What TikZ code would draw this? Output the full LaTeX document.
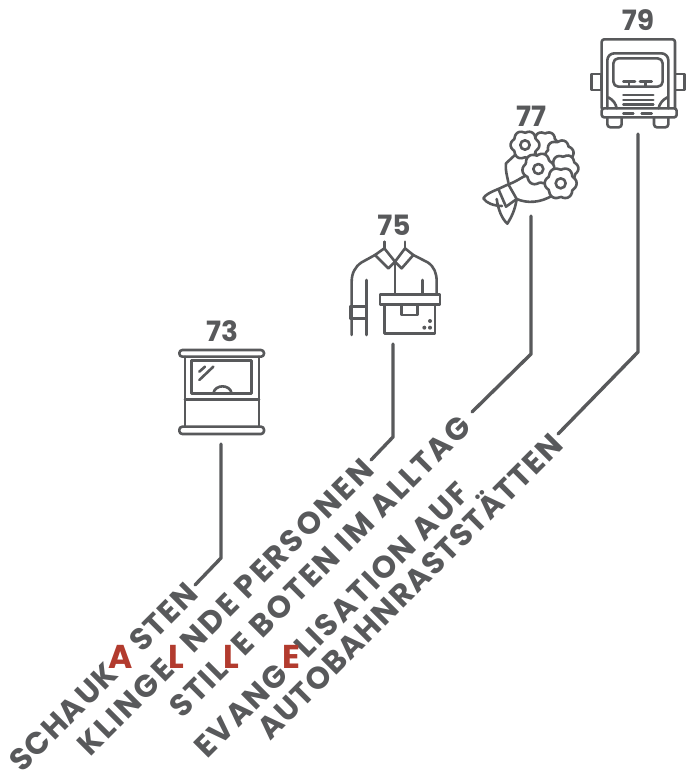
\documentclass[tikz,border=0pt]{standalone}
\usepackage{fontspec}
\setmainfont{Poppins}
\newfontfamily\labg{Poppins}[LetterSpace=7]
\newfontfamily\labh{Poppins}[LetterSpace=8]
\newfontfamily\labi{Poppins}[LetterSpace=4]
\definecolor{ink}{HTML}{58595B}
\definecolor{redl}{HTML}{B23B2E}
\newcommand{\flwr}[5]{\draw[icon,fill=white] plot[smooth cycle,domain=0:352,samples=45] ({#1+(#3+#3*0.2*abs(cos(3*\x+#5)))*cos(\x)},{#2+(#3+#3*0.2*abs(cos(3*\x+#5)))*sin(\x)});
\ifnum#4>0 \draw[icon] (#1,#2) circle (#4);\fi}
\tikzset{
 x=1pt,y=-1pt,
 icon/.style={draw=ink,line width=2.6pt,line join=round,line cap=round},
 conn/.style={draw=ink,line width=3.4pt,line cap=round,line join=round},
 num/.style={font=\bfseries\fontsize{28}{28}\selectfont,text=ink,inner sep=0pt},
 lab/.style={font=#1\bfseries\fontsize{31}{31}\selectfont,text=ink,inner sep=0pt,rotate=45,anchor=base west},
 red/.style={font=\bfseries\fontsize{33}{33}\selectfont,text=redl,inner sep=0pt},
}
\begin{document}
\begin{tikzpicture}
\useasboundingbox (0,0) rectangle (686,773);
% numbers
\node[num] (n73) at (222,331) {73};
\node[num] (n75) at (394,225) {75};
\node[num] (n77) at (531,116) {77};
\node[num] (n79) at (638,20) {79};
% labels
\node[lab=\labi] (l1) at (22,774) {SCHAUK\phantom{A}\hspace{9pt}STEN};
\node[lab=\labh] (l2) at (90,758) {KLINGE\phantom{L}\hspace{10pt}NDE PERSONEN};
\node[lab=\labg] (l3) at (182,720) {STIL\phantom{L}\hspace{6pt}E BOTEN IM ALLTAG};
\node[lab=\labg] (l4) at (207,760) {EVANG\phantom{E}\hspace{8pt}LISATION AUF};
\node[lab=\labi] (l5) at (270,742) {AUTOBAHNRASTSTÄTTEN};
\node[red] (a1) at (121,657) {A};
\node[red] (a2) at (176,657) {L};
\node[red] (a3) at (231,657) {L};
\node[red] (a4) at (291,657) {E};
% connectors
\coordinate (c1a) at (221,444); \coordinate (c1b) at (221,558); \coordinate (c1c) at (195,585);
\coordinate (c2a) at (393,344); \coordinate (c2b) at (393,437); \coordinate (c2c) at (371,460);
\coordinate (c3a) at (531,216); \coordinate (c3b) at (531,354); \coordinate (c3c) at (472,412);
\coordinate (c4a) at (638,134); \coordinate (c4b) at (638,352); \coordinate (c4c) at (558,434);
\draw[conn] (c1a) -- (c1b) -- (c1c);
\draw[conn] (c2a) -- (c2b) -- (c2c);
\draw[conn] (c3a) -- (c3b) -- (c3c);
\draw[conn] (c4a) -- (c4b) -- (c4c);
% icon 73
\begin{scope}[shift={(160,310)},scale=1/3]
\draw[icon,rounded corners=3pt] (58,120) rectangle (312,140);
\draw[icon,rounded corners=3pt] (58,350) rectangle (312,372);
\draw[icon] (75,140) -- (75,350) (297,140) -- (297,350);
\draw[icon] (95,152) rectangle (275,250);
\draw[icon] (75,268) -- (297,268);
\draw[icon] (160,250) .. controls (165,222) and (210,222) .. (215,250);
\draw[icon] (118,185) -- (135,170) (118,210) -- (160,170);
\end{scope}
% icon 75
\begin{scope}[shift={(335,205)},scale=1/3]
\draw[icon] (148,110) -- (148,130) (210,110) -- (210,130);
\draw[icon] (148,130) -- (120,150) -- (160,190) -- (180,170) -- (210,130) -- (235,150) -- (200,190) -- (180,170) -- cycle;
\draw[icon] (120,150) -- (80,172) .. controls (60,185) and (50,205) .. (50,230) -- (50,390);
\draw[icon] (235,150) -- (278,172) .. controls (298,185) and (305,205) .. (305,230) -- (305,265);
\draw[icon] (180,170) -- (180,268);
\draw[icon] (95,225) -- (95,390) (262,225) -- (262,268);
\draw[icon] (45,305) rectangle (95,340);
\draw[icon] (135,268) rectangle (315,298);
\draw[icon] (148,298) -- (148,385) -- (300,385) -- (300,298);
\draw[icon] (200,298) -- (200,330) -- (248,330) -- (248,298);
\fill[ink] (285,348) circle (6) (285,368) circle (6) (268,368) circle (6);
\end{scope}
% icon 77
\begin{scope}[shift={(470,95)},scale=1/3]
\flwr{225}{150}{34}{0}{0}
\flwr{268}{178}{36}{0}{30}
\flwr{282}{222}{36}{0}{10}
\draw[icon] (135,180) -- (108,205) .. controls (105,225) and (112,245) .. (115,262);
\draw[icon] (115,268) .. controls (135,262) and (150,250) .. (170,240);
\draw[icon] (140,312) .. controls (170,325) and (210,325) .. (250,300);
\draw[icon] (85,282) -- (115,268) -- (140,312) -- (108,335) -- cycle;
\draw[icon] (85,282) .. controls (60,292) and (45,300) .. (40,310) .. controls (50,325) and (70,332) .. (96,333);
\draw[icon] (80,312) .. controls (85,345) and (95,370) .. (112,386) .. controls (125,365) and (135,345) .. (140,312);
\flwr{165}{150}{36}{14}{0}
\flwr{205}{222}{40}{15}{20}
\flwr{272}{265}{40}{15}{0}
\end{scope}
% icon 79
\begin{scope}[shift={(580,0)},scale=1/3]
\draw[icon,rounded corners=2.5pt] (65,325) -- (65,118) -- (285,118) -- (285,325);
\draw[icon,fill=white,rounded corners=7pt] (82,325) -- (82,160) -- (265,160) -- (265,325);
\draw[icon,rounded corners=5pt] (100,175) rectangle (248,260);
\draw[icon] (130,245) -- (165,245) (147,245) -- (147,258) (180,245) -- (215,245) (197,245) -- (197,258);
\draw[icon] (130,285) -- (220,285) (130,300) -- (220,300) (130,313) -- (220,313);
\draw[icon] (35,222) rectangle (65,270) (285,222) rectangle (313,270);
\draw[icon,rounded corners=2.5pt] (65,325) rectangle (290,352);
\draw[icon] (130,340) -- (160,340) (185,340) -- (215,340);
\draw[icon,rounded corners=3pt] (82,352) -- (82,382) -- (125,382) -- (125,352);
\draw[icon,rounded corners=3pt] (222,352) -- (222,382) -- (265,382) -- (265,352);
\draw[icon] (85,292) .. controls (100,300) and (108,312) .. (110,325);
\draw[icon] (262,292) .. controls (247,300) and (238,312) .. (236,325);
\end{scope}
\end{tikzpicture}
\end{document}
